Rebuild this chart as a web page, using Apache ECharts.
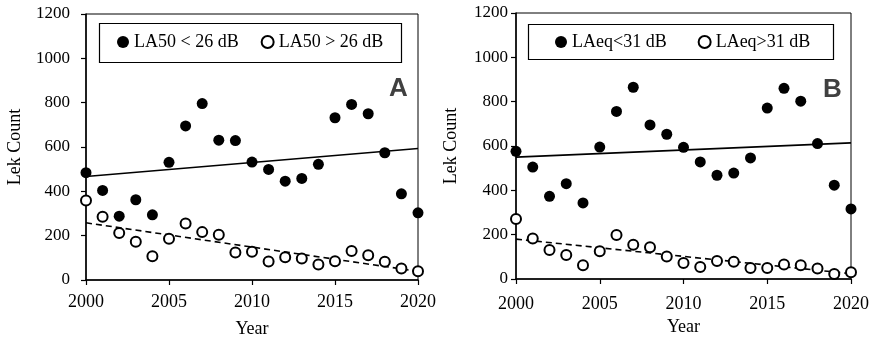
<!DOCTYPE html>
<html>
<head>
<meta charset="utf-8">
<script src="https://cdn.jsdelivr.net/npm/echarts@6/dist/echarts.min.js"></script>
<style>
html,body{margin:0;padding:0;background:#fff;}
#main{width:878px;height:343px;}
</style>
</head>
<body>
<div id="main"></div>
<script>
// ---- data ----
var years = [2000,2001,2002,2003,2004,2005,2006,2007,2008,2009,2010,2011,2012,2013,2014,2015,2016,2017,2018,2019,2020];
var xTicks = [2000, 2005, 2010, 2015, 2020];
var yTicks = [0, 200, 400, 600, 800, 1000, 1200];

// Panel A
var namesA = ['LA50 < 26 dB', 'LA50 > 26 dB'];
var quietA = [484,404,288,362,294,531,695,796,631,629,532,499,446,458,522,732,792,750,574,389,303];
var loudA  = [359,285,212,173,107,186,255,216,204,124,127,83,103,97,70,85,131,112,82,52,40];
var trendQuietA = [467, 593];   // trendline values at 2000 and 2020
var trendLoudA  = [258, 39];

// Panel B
var namesB = ['LAeq<31 dB', 'LAeq>31 dB'];
var quietB = [576,505,373,430,343,595,756,865,695,653,594,528,468,478,546,771,860,802,611,423,316];
var loudB  = [271,183,131,108,62,125,199,155,143,101,72,54,81,78,50,50,65,62,47,23,30];
var trendQuietB = [550, 614];
var trendLoudB  = [180, 24];

// ---- build ----
function pairs(xs, ys){ return xs.map(function(x,i){ return [x, ys[i]]; }); }
var trendX = [xTicks[0], xTicks[xTicks.length-1]];

var serif = 'Liberation Serif, Times New Roman, serif';
var chart = echarts.init(document.getElementById('main'), null, {renderer:'canvas'});
function plain(v){ return String(v); }

function xAxisCfg(gi, margin, nameGap){
  return {
    type:'value', gridIndex:gi, min:xTicks[0], max:xTicks[xTicks.length-1], interval:5,
    name:'Year', nameLocation:'middle', nameGap:nameGap,
    nameTextStyle:{fontFamily:serif, fontSize:18, color:'#000'},
    axisLine:{show:true, onZero:false, lineStyle:{color:'#000', width:1.5}},
    axisTick:{show:true, inside:false, length:5, lineStyle:{color:'#000', width:1.2}},
    axisLabel:{fontFamily:serif, fontSize:18, color:'#000', margin:margin, formatter:plain},
    splitLine:{show:false}
  };
}
function yAxisCfg(gi, margin, nameGap){
  return {
    type:'value', gridIndex:gi, min:yTicks[0], max:yTicks[yTicks.length-1], interval:200,
    name:'Lek Count', nameLocation:'middle', nameGap:nameGap, nameRotate:90,
    nameTextStyle:{fontFamily:serif, fontSize:18, color:'#000'},
    axisLine:{show:true, onZero:false, lineStyle:{color:'#000', width:1.5}},
    axisTick:{show:true, inside:false, length:5, lineStyle:{color:'#000', width:1.2}},
    axisLabel:{fontFamily:serif, fontSize:17, color:'#000', margin:margin, formatter:plain},
    splitLine:{show:false}
  };
}
function scatterFilled(name, data, gi){
  return {name:name, type:'scatter', xAxisIndex:gi, yAxisIndex:gi, data:pairs(years,data),
    symbol:'circle', symbolSize:11, itemStyle:{color:'#000', opacity:1}, z:5, silent:true};
}
function scatterOpen(name, data, gi){
  return {name:name, type:'scatter', xAxisIndex:gi, yAxisIndex:gi, data:pairs(years,data),
    symbol:'emptyCircle', symbolSize:10, itemStyle:{color:'#000', borderColor:'#000', borderWidth:3, opacity:1}, z:5, silent:true};
}
function trend(data, gi, dashed){
  return {type:'line', xAxisIndex:gi, yAxisIndex:gi, data:pairs(trendX,data), symbol:'none',
    lineStyle:{color:'#000', width:1.6, type: dashed ? [6,4] : 'solid'}, z:3, silent:true};
}
function legendCfg(names, left, top, gap){
  return {
    data:[{name:names[0], icon:'circle', itemStyle:{color:'#000', opacity:1}},
          {name:names[1], icon:'emptyCircle', itemStyle:{color:'#000', borderColor:'#000', borderWidth:2.4, opacity:1}}],
    left:left, top:top, orient:'horizontal',
    padding:0, itemGap:gap, itemWidth:12, itemHeight:12,
    textStyle:{fontFamily:serif, fontSize:18, color:'#000'},
    selectedMode:false, z:10
  };
}
function legendBox(x, y, w, h){
  return {type:'rect', shape:{x:x, y:y, width:w, height:h}, z:1,
    style:{fill:'#fff', stroke:'#000', lineWidth:1.2}};
}

chart.setOption({
  animation:false,
  backgroundColor:'#fff',
  title:[
    {text:'A', left:384, top:71, textStyle:{fontFamily:'Liberation Sans, Arial, sans-serif', fontWeight:'bold', fontSize:26, color:'#404040'}},
    {text:'B', left:818, top:72, textStyle:{fontFamily:'Liberation Sans, Arial, sans-serif', fontWeight:'bold', fontSize:26, color:'#404040'}}
  ],
  graphic:[ legendBox(99.5, 23.5, 302, 39), legendBox(528.5, 24.5, 305, 35) ],
  grid:[
    {left:86, right:460, top:14, bottom:60, show:true, borderColor:'#000', borderWidth:1, backgroundColor:'transparent'},
    {left:516, right:27, top:13, bottom:64, show:true, borderColor:'#000', borderWidth:1, backgroundColor:'transparent'}
  ],
  legend:[ legendCfg(namesA, 117, 33, 22), legendCfg(namesB, 555, 33, 31) ],
  xAxis:[ xAxisCfg(0, 13, 40), xAxisCfg(1, 16, 39) ],
  yAxis:[ yAxisCfg(0, 16, 62), yAxisCfg(1, 8, 56) ],
  series:[
    trend(trendQuietA, 0, false), trend(trendLoudA, 0, true),
    scatterFilled(namesA[0], quietA, 0), scatterOpen(namesA[1], loudA, 0),
    trend(trendQuietB, 1, false), trend(trendLoudB, 1, true),
    scatterFilled(namesB[0], quietB, 1), scatterOpen(namesB[1], loudB, 1)
  ]
});
</script>
</body>
</html>
